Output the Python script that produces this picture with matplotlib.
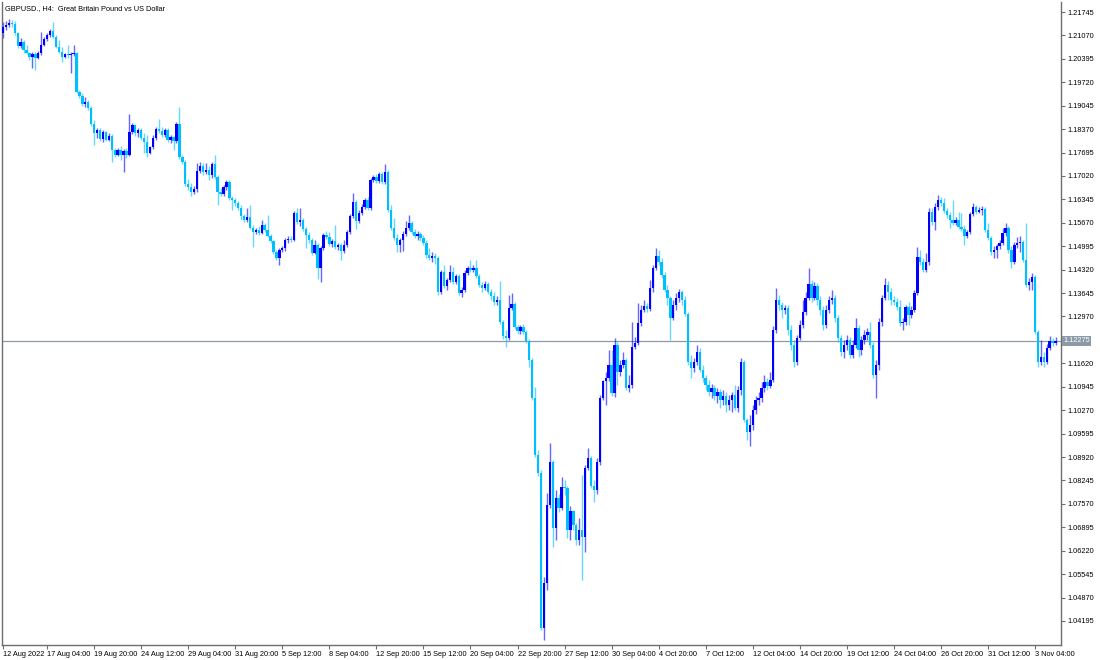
import matplotlib
matplotlib.use('Agg')
import matplotlib.pyplot as plt
import numpy as np

plt.rcParams['font.family'] = ['Liberation Sans', 'DejaVu Sans']

# --- GBPUSD H4, 12 Aug 2022 - 4 Nov 2022 ---
FIRST_OPEN = 1.2114

closes = [
    1.2131, 1.2137, 1.2143, 1.2140, 1.2114, 1.2077, 1.2088, 1.2065, 1.2056, 1.2045,
    1.2053, 1.2042, 1.2056, 1.2079, 1.2097, 1.2108, 1.2120, 1.2102, 1.2074, 1.2059,
    1.2045, 1.2053, 1.2051, 1.2053, 1.2056, 1.1944, 1.1932, 1.1909, 1.1915, 1.1898,
    1.1852, 1.1826, 1.1834, 1.1808, 1.1829, 1.1806, 1.1817, 1.1777, 1.1762, 1.1777,
    1.1762, 1.1774, 1.1762, 1.1829, 1.1849, 1.1826, 1.1834, 1.1811, 1.1800, 1.1768,
    1.1786, 1.1811, 1.1837, 1.1832, 1.1820, 1.1834, 1.1806, 1.1814, 1.1803, 1.1852,
    1.1757, 1.1742, 1.1679, 1.1670, 1.1656, 1.1664, 1.1716, 1.1731, 1.1713, 1.1719,
    1.1705, 1.1736, 1.1699, 1.1656, 1.1650, 1.1670, 1.1685, 1.1638, 1.1633, 1.1624,
    1.1610, 1.1587, 1.1575, 1.1584, 1.1552, 1.1541, 1.1546, 1.1538, 1.1561, 1.1546,
    1.1529, 1.1515, 1.1483, 1.1466, 1.1489, 1.1494, 1.1518, 1.1520, 1.1518, 1.1595,
    1.1569, 1.1575, 1.1549, 1.1532, 1.1518, 1.1480, 1.1503, 1.1437, 1.1494, 1.1532,
    1.1526, 1.1506, 1.1515, 1.1497, 1.1503, 1.1486, 1.1503, 1.1541, 1.1587, 1.1627,
    1.1572, 1.1595, 1.1613, 1.1633, 1.1610, 1.1690, 1.1699, 1.1688, 1.1708, 1.1685,
    1.1713, 1.1604, 1.1552, 1.1523, 1.1503, 1.1518, 1.1535, 1.1552, 1.1567, 1.1541,
    1.1529, 1.1535, 1.1523, 1.1509, 1.1474, 1.1466, 1.1471, 1.1466, 1.1368, 1.1425,
    1.1385, 1.1402, 1.1425, 1.1396, 1.1414, 1.1365, 1.1373, 1.1422, 1.1437, 1.1431,
    1.1437, 1.1414, 1.1388, 1.1379, 1.1391, 1.1368, 1.1356, 1.1339, 1.1345, 1.1281,
    1.1241, 1.1235, 1.1321, 1.1333, 1.1267, 1.1255, 1.1267, 1.1252, 1.1226, 1.1172,
    1.1062, 1.0898, 1.0846, 1.0399, 1.0529, 1.0754, 1.0878, 1.0688, 1.0774, 1.0745,
    1.0806, 1.0803, 1.0682, 1.0737, 1.0696, 1.0653, 1.0682, 1.0662, 1.0861, 1.0889,
    1.0809, 1.0797, 1.0878, 1.1062, 1.1111, 1.1120, 1.1158, 1.1077, 1.1215, 1.1137,
    1.1158, 1.1172, 1.1091, 1.1100, 1.1209, 1.1221, 1.1278, 1.1316, 1.1327, 1.1319,
    1.1379, 1.1437, 1.1471, 1.1454, 1.1417, 1.1373, 1.1350, 1.1293, 1.1330, 1.1350,
    1.1368, 1.1345, 1.1304, 1.1166, 1.1149, 1.1166, 1.1195, 1.1143, 1.1120, 1.1100,
    1.1079, 1.1091, 1.1068, 1.1079, 1.1056, 1.1068, 1.1042, 1.1056, 1.1071, 1.1033,
    1.1085, 1.1166, 1.0999, 1.0964, 1.0984, 1.1028, 1.1056, 1.1062, 1.1091, 1.1108,
    1.1097, 1.1114, 1.1258, 1.1345, 1.1330, 1.1316, 1.1321, 1.1258, 1.1215, 1.1166,
    1.1235, 1.1273, 1.1310, 1.1350, 1.1391, 1.1350, 1.1385, 1.1345, 1.1316, 1.1273,
    1.1316, 1.1345, 1.1350, 1.1293, 1.1235, 1.1195, 1.1215, 1.1229, 1.1186, 1.1215,
    1.1264, 1.1201, 1.1229, 1.1244, 1.1252, 1.1215, 1.1129, 1.1158, 1.1281, 1.1350,
    1.1388, 1.1368, 1.1345, 1.1339, 1.1324, 1.1278, 1.1281, 1.1324, 1.1302, 1.1316,
    1.1365, 1.1469, 1.1454, 1.1431, 1.1454, 1.1598, 1.1569, 1.1613, 1.1633, 1.1624,
    1.1601, 1.1590, 1.1575, 1.1567, 1.1575, 1.1555, 1.1549, 1.1529, 1.1541, 1.1592,
    1.1613, 1.1598, 1.1604, 1.1607, 1.1546, 1.1523, 1.1483, 1.1489, 1.1500, 1.1509,
    1.1538, 1.1552, 1.1489, 1.1454, 1.1503, 1.1509, 1.1512, 1.1460, 1.1388, 1.1396,
    1.1411, 1.1252, 1.1166, 1.1180, 1.1166, 1.1206, 1.1226, 1.1221, 1.12275,
]

highs = [
    1.2146, 1.2149, 1.2154, 1.2152, 1.2149, 1.2117, 1.2100, 1.2094, 1.2079, 1.2059,
    1.2059, 1.2059, 1.2062, 1.2117, 1.2102, 1.2114, 1.2126, 1.2146, 1.2108, 1.2094,
    1.2074, 1.2056, 1.2079, 1.2059, 1.2079, 1.2059, 1.1950, 1.1941, 1.1929, 1.1921,
    1.1904, 1.1863, 1.1840, 1.1840, 1.1834, 1.1832, 1.1826, 1.1823, 1.1783, 1.1783,
    1.1788, 1.1780, 1.1783, 1.1881, 1.1855, 1.1852, 1.1840, 1.1840, 1.1826, 1.1820,
    1.1788, 1.1820, 1.1843, 1.1866, 1.1843, 1.1840, 1.1840, 1.1820, 1.1817, 1.1858,
    1.1901, 1.1762, 1.1748, 1.1693, 1.1682, 1.1673, 1.1739, 1.1742, 1.1739, 1.1739,
    1.1731, 1.1742, 1.1762, 1.1705, 1.1667, 1.1676, 1.1690, 1.1690, 1.1644, 1.1638,
    1.1630, 1.1618, 1.1592, 1.1610, 1.1618, 1.1561, 1.1552, 1.1558, 1.1575, 1.1567,
    1.1590, 1.1535, 1.1518, 1.1489, 1.1494, 1.1500, 1.1523, 1.1529, 1.1529, 1.1601,
    1.1610, 1.1610, 1.1581, 1.1555, 1.1541, 1.1523, 1.1518, 1.1509, 1.1500, 1.1538,
    1.1543, 1.1541, 1.1520, 1.1561, 1.1509, 1.1509, 1.1518, 1.1546, 1.1592, 1.1653,
    1.1633, 1.1604, 1.1621, 1.1638, 1.1641, 1.1696, 1.1705, 1.1708, 1.1713, 1.1713,
    1.1736, 1.1719, 1.1618, 1.1581, 1.1535, 1.1523, 1.1543, 1.1572, 1.1590, 1.1572,
    1.1549, 1.1543, 1.1541, 1.1532, 1.1518, 1.1494, 1.1483, 1.1480, 1.1471, 1.1431,
    1.1446, 1.1408, 1.1446, 1.1440, 1.1419, 1.1419, 1.1382, 1.1431, 1.1443, 1.1460,
    1.1446, 1.1460, 1.1419, 1.1396, 1.1399, 1.1396, 1.1376, 1.1368, 1.1356, 1.1399,
    1.1287, 1.1258, 1.1359, 1.1365, 1.1339, 1.1273, 1.1273, 1.1275, 1.1258, 1.1232,
    1.1177, 1.1094, 1.0912, 1.0855, 1.0546, 1.0788, 1.0932, 1.0884, 1.0797, 1.0786,
    1.0835, 1.0826, 1.0809, 1.0751, 1.0739, 1.0702, 1.0716, 1.0840, 1.0869, 1.0918,
    1.0895, 1.0826, 1.0889, 1.1071, 1.1114, 1.1137, 1.1201, 1.1201, 1.1235, 1.1224,
    1.1172, 1.1195, 1.1177, 1.1129, 1.1281, 1.1238, 1.1336, 1.1330, 1.1345, 1.1336,
    1.1402, 1.1446, 1.1494, 1.1489, 1.1466, 1.1425, 1.1388, 1.1356, 1.1345, 1.1365,
    1.1376, 1.1373, 1.1356, 1.1310, 1.1186, 1.1177, 1.1215, 1.1206, 1.1158, 1.1129,
    1.1114, 1.1102, 1.1100, 1.1091, 1.1088, 1.1085, 1.1079, 1.1071, 1.1079, 1.1100,
    1.1097, 1.1177, 1.1172, 1.1004, 1.1013, 1.1042, 1.1068, 1.1079, 1.1108, 1.1129,
    1.1120, 1.1137, 1.1270, 1.1379, 1.1359, 1.1339, 1.1330, 1.1330, 1.1273, 1.1229,
    1.1244, 1.1287, 1.1345, 1.1368, 1.1437, 1.1402, 1.1396, 1.1394, 1.1356, 1.1327,
    1.1330, 1.1356, 1.1373, 1.1359, 1.1302, 1.1244, 1.1229, 1.1244, 1.1238, 1.1229,
    1.1293, 1.1273, 1.1241, 1.1258, 1.1264, 1.1281, 1.1224, 1.1172, 1.1293, 1.1359,
    1.1408, 1.1399, 1.1379, 1.1356, 1.1350, 1.1345, 1.1293, 1.1330, 1.1339, 1.1327,
    1.1373, 1.1497, 1.1489, 1.1466, 1.1480, 1.1610, 1.1610, 1.1624, 1.1647, 1.1641,
    1.1638, 1.1610, 1.1598, 1.1633, 1.1584, 1.1598, 1.1595, 1.1561, 1.1546, 1.1598,
    1.1624, 1.1618, 1.1613, 1.1615, 1.1613, 1.1567, 1.1529, 1.1500, 1.1506, 1.1518,
    1.1552, 1.1567, 1.1558, 1.1500, 1.1512, 1.1526, 1.1529, 1.1518, 1.1567, 1.1408,
    1.1422, 1.1417, 1.1258, 1.1229, 1.1195, 1.1218, 1.1241, 1.1235, 1.1238,
]

lows = [
    1.2100, 1.2123, 1.2131, 1.2131, 1.2108, 1.2071, 1.2071, 1.2056, 1.2053, 1.2036,
    1.2013, 1.2007, 1.2039, 1.2051, 1.2077, 1.2091, 1.2102, 1.2100, 1.2071, 1.2056,
    1.2030, 1.2042, 1.2042, 1.1999, 1.2048, 1.1941, 1.1927, 1.1904, 1.1901, 1.1892,
    1.1846, 1.1791, 1.1811, 1.1803, 1.1800, 1.1803, 1.1803, 1.1742, 1.1757, 1.1759,
    1.1748, 1.1713, 1.1754, 1.1759, 1.1823, 1.1817, 1.1814, 1.1806, 1.1768, 1.1757,
    1.1765, 1.1780, 1.1806, 1.1826, 1.1814, 1.1814, 1.1800, 1.1797, 1.1777, 1.1797,
    1.1751, 1.1736, 1.1673, 1.1662, 1.1645, 1.1650, 1.1656, 1.1711, 1.1705, 1.1708,
    1.1690, 1.1696, 1.1693, 1.1618, 1.1645, 1.1645, 1.1662, 1.1633, 1.1604, 1.1615,
    1.1604, 1.1575, 1.1569, 1.1569, 1.1549, 1.1497, 1.1535, 1.1532, 1.1535, 1.1541,
    1.1526, 1.1509, 1.1477, 1.1460, 1.1446, 1.1483, 1.1486, 1.1509, 1.1512, 1.1515,
    1.1564, 1.1558, 1.1543, 1.1494, 1.1509, 1.1474, 1.1477, 1.1405, 1.1396, 1.1489,
    1.1520, 1.1500, 1.1497, 1.1492, 1.1489, 1.1460, 1.1480, 1.1497, 1.1535, 1.1581,
    1.1549, 1.1567, 1.1590, 1.1607, 1.1604, 1.1604, 1.1685, 1.1682, 1.1682, 1.1679,
    1.1679, 1.1598, 1.1546, 1.1518, 1.1483, 1.1483, 1.1486, 1.1529, 1.1546, 1.1535,
    1.1523, 1.1518, 1.1515, 1.1503, 1.1466, 1.1460, 1.1454, 1.1448, 1.1359, 1.1362,
    1.1379, 1.1373, 1.1396, 1.1391, 1.1391, 1.1359, 1.1353, 1.1368, 1.1417, 1.1425,
    1.1425, 1.1408, 1.1382, 1.1368, 1.1373, 1.1362, 1.1345, 1.1330, 1.1330, 1.1275,
    1.1232, 1.1209, 1.1229, 1.1316, 1.1261, 1.1247, 1.1247, 1.1247, 1.1221, 1.1151,
    1.1056, 1.0892, 1.0837, 1.0394, 1.0365, 1.0509, 1.0745, 1.0633, 1.0653, 1.0734,
    1.0739, 1.0783, 1.0659, 1.0653, 1.0682, 1.0639, 1.0639, 1.0538, 1.0618, 1.0855,
    1.0803, 1.0762, 1.0786, 1.0869, 1.1056, 1.1042, 1.1111, 1.1068, 1.1065, 1.1100,
    1.1126, 1.1149, 1.1085, 1.1079, 1.1091, 1.1203, 1.1215, 1.1270, 1.1310, 1.1310,
    1.1313, 1.1368, 1.1431, 1.1446, 1.1408, 1.1368, 1.1330, 1.1229, 1.1287, 1.1316,
    1.1339, 1.1330, 1.1298, 1.1158, 1.1120, 1.1137, 1.1158, 1.1137, 1.1108, 1.1085,
    1.1068, 1.1062, 1.1056, 1.1048, 1.1033, 1.1042, 1.1022, 1.1028, 1.1022, 1.1028,
    1.1022, 1.1071, 1.0993, 1.0941, 1.0924, 1.0970, 1.1016, 1.1042, 1.1051, 1.1079,
    1.1085, 1.1091, 1.1108, 1.1250, 1.1316, 1.1293, 1.1304, 1.1244, 1.1201, 1.1151,
    1.1158, 1.1229, 1.1264, 1.1302, 1.1345, 1.1339, 1.1345, 1.1330, 1.1302, 1.1258,
    1.1264, 1.1307, 1.1333, 1.1281, 1.1224, 1.1183, 1.1177, 1.1201, 1.1177, 1.1177,
    1.1206, 1.1180, 1.1186, 1.1218, 1.1229, 1.1206, 1.1120, 1.1062, 1.1143, 1.1270,
    1.1345, 1.1345, 1.1330, 1.1330, 1.1316, 1.1270, 1.1258, 1.1273, 1.1273, 1.1293,
    1.1310, 1.1359, 1.1446, 1.1425, 1.1425, 1.1446, 1.1561, 1.1546, 1.1604, 1.1615,
    1.1595, 1.1581, 1.1552, 1.1561, 1.1561, 1.1549, 1.1543, 1.1503, 1.1523, 1.1535,
    1.1587, 1.1592, 1.1595, 1.1590, 1.1541, 1.1518, 1.1474, 1.1466, 1.1466, 1.1492,
    1.1503, 1.1529, 1.1480, 1.1437, 1.1448, 1.1494, 1.1483, 1.1454, 1.1382, 1.1373,
    1.1373, 1.1247, 1.1151, 1.1158, 1.1151, 1.1160, 1.1201, 1.1212, 1.1215,
]

time_labels = [
    '12 Aug 2022', '17 Aug 04:00', '19 Aug 20:00', '24 Aug 12:00', '29 Aug 04:00',
    '31 Aug 20:00', '5 Sep 12:00', '8 Sep 04:00', '12 Sep 20:00', '15 Sep 12:00',
    '20 Sep 04:00', '22 Sep 20:00', '27 Sep 12:00', '30 Sep 04:00', '4 Oct 20:00',
    '7 Oct 12:00', '12 Oct 04:00', '14 Oct 20:00', '19 Oct 12:00', '24 Oct 04:00',
    '26 Oct 20:00', '31 Oct 12:00', '3 Nov 04:00',
]
label_bars = [0] + [15 + 16 * k for k in range(len(time_labels) - 1)]

price_ticks = [round(1.04195 + 0.00675 * k, 5) for k in range(27)]
LAST_PRICE = 1.12275

BULL = '#0000ff'
BEAR = '#00bfff'
AXIS = '#6e6e6e'

opens = [FIRST_OPEN] + closes[:-1]
o = np.array(opens)
c = np.array(closes)
h = np.array(highs)
l = np.array(lows)
idx = np.arange(len(c))
up = c >= o
colors = np.where(up, BULL, BEAR)

W, H = 1100, 660
fig = plt.figure(figsize=(W / 100, H / 100), dpi=100)
ax = fig.add_axes([2 / W, 15 / H, 1059 / W, 643 / H])

ax.vlines(idx, l, h, colors=colors, lw=1.0, alpha=0.6, zorder=2)
body = np.maximum(np.abs(c - o), 0.00012)
ax.bar(idx, body, bottom=np.minimum(o, c), width=0.8, color=colors,
       linewidth=0, zorder=3)

ax.axhline(LAST_PRICE, color='#8c9aa8', lw=0.9, zorder=1)

ax.set_xlim(-1 / 2.94, -1 / 2.94 + 1059 / 2.94)
ax.set_ylim(1.035032, 1.220332)

# price axis on the right
ax.yaxis.tick_right()
shown = [p for p in price_ticks if abs(p - LAST_PRICE) > 0.002]
ax.set_yticks(shown)
ax.set_yticklabels([f'{p:.5f}' for p in shown])
ax.tick_params(axis='y', direction='out', length=3, width=0.8, color=AXIS,
               labelsize=5.3, pad=1.5, labelcolor='#000000')

ax.set_xticks(label_bars)
ax.set_xticklabels(time_labels)
ax.tick_params(axis='x', direction='out', length=3, width=0.8, color=AXIS,
               labelsize=5.3, pad=1.0, labelcolor='#000000')
for t in ax.get_xticklabels():
    t.set_horizontalalignment('left')

ax.spines['top'].set_visible(False)
for side in ('left', 'right', 'bottom'):
    ax.spines[side].set_color(AXIS)
    ax.spines[side].set_linewidth(1.0)

ax.text(1.002, LAST_PRICE, f'{LAST_PRICE:.5f}', transform=ax.get_yaxis_transform(),
        ha='left', va='center', fontsize=5.3, color='white',
        bbox=dict(boxstyle='square,pad=0.2', facecolor='#8c9aa8', edgecolor='none'))

ax.text(0.003, 0.995, 'GBPUSD., H4:  Great Britain Pound vs US Dollar',
        transform=ax.transAxes, ha='left', va='top', fontsize=5.3, color='#000000')

fig.savefig('out.png', dpi=100)
plt.close(fig)
